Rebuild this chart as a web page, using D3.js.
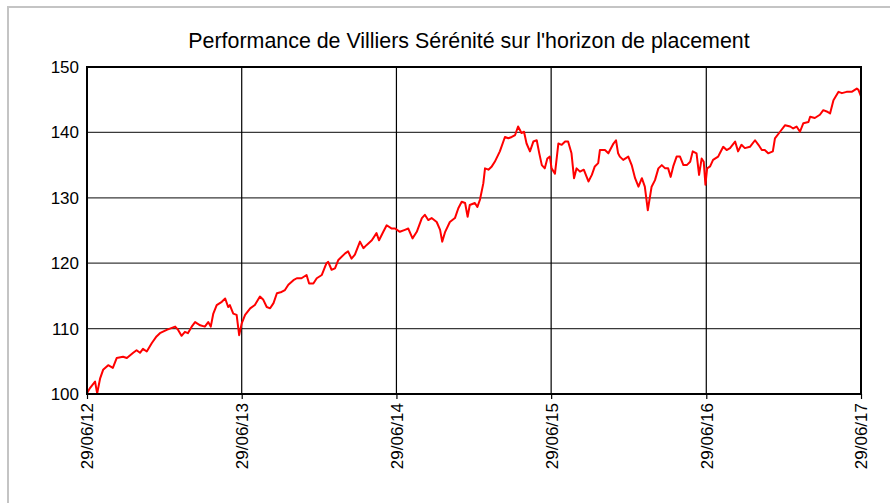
<!DOCTYPE html>
<html>
<head>
<meta charset="utf-8">
<script src="https://cdn.jsdelivr.net/npm/d3@7"></script>
<style>
  body { margin: 0; background: #fff; }
  svg { display: block; font-family: Arial, "Liberation Sans", sans-serif; }
</style>
</head>
<body>
<div id="chart"></div>
<script>
// fund value (days counted from the first date)
const startDate = "2012-06-29";
const dayOffsets = [
  0, 7, 19, 24, 31, 38, 50, 61, 70, 85, 94, 109, 117, 125, 132, 141, 153, 164, 172, 188,
  208, 215, 223, 231, 238, 247, 255, 267, 278, 286, 292, 298, 306, 318, 326, 333, 337, 345, 353, 359,
  365, 373, 385, 396, 408, 416, 424, 432, 440, 448, 459, 467, 475, 487, 495, 506, 518, 524, 534, 542,
  554, 565, 569, 577, 585, 593, 609, 616, 624, 632, 644, 652, 660, 672, 683, 689, 699, 707, 719, 727,
  738, 750, 758, 768, 778, 790, 797, 805, 813, 825, 833, 838, 845, 856, 868, 876, 884, 892, 898, 903,
  915, 921, 927, 935, 939, 947, 955, 962, 974, 986, 994, 1002, 1010, 1017, 1025, 1031, 1037, 1045, 1053, 1061,
  1067, 1073, 1080, 1086, 1092, 1096, 1104, 1112, 1120, 1128, 1135, 1143, 1149, 1155, 1163, 1172, 1183, 1191, 1198, 1206,
  1210, 1222, 1230, 1242, 1248, 1253, 1257, 1265, 1277, 1285, 1293, 1301, 1309, 1316, 1323, 1332, 1340, 1348, 1356, 1364,
  1371, 1377, 1383, 1391, 1399, 1407, 1415, 1423, 1429, 1438, 1444, 1450, 1455, 1459, 1463, 1470, 1477, 1489, 1493, 1501,
  1509, 1517, 1529, 1536, 1544, 1552, 1564, 1576, 1584, 1592, 1599, 1607, 1618, 1623, 1635, 1647, 1659, 1666, 1674, 1682,
  1690, 1702, 1706, 1717, 1729, 1737, 1745, 1753, 1761, 1773, 1781, 1792, 1804, 1816, 1820, 1826
];
const values = [
  100.1, 100.9, 101.9, 100.1, 102.4, 103.7, 104.4, 104.0, 105.5, 105.7, 105.5, 106.3, 106.7, 106.3, 106.9, 106.5, 107.8, 108.8, 109.3, 109.8,
  110.3, 109.8, 108.9, 109.5, 109.3, 110.3, 111.0, 110.5, 110.3, 111.0, 110.3, 112.3, 113.6, 114.1, 114.6, 113.3, 113.6, 112.3, 112.1, 109.0,
  110.8, 112.1, 113.1, 113.6, 114.9, 114.4, 113.3, 113.1, 113.9, 115.4, 115.6, 115.9, 116.7, 117.4, 117.7, 117.7, 118.2, 116.9, 116.9, 117.7,
  118.2, 120.0, 120.2, 119.0, 119.2, 120.5, 121.5, 121.8, 120.7, 121.3, 123.3, 122.3, 122.8, 123.5, 124.6, 123.5, 124.8, 125.8, 125.3, 125.3,
  124.8, 125.1, 125.3, 123.8, 124.8, 126.9, 127.4, 126.6, 126.9, 126.3, 125.1, 123.3, 124.8, 126.3, 126.9, 128.4, 129.4, 129.2, 127.1, 128.9,
  129.2, 128.6, 129.7, 132.2, 134.5, 134.3, 134.8, 135.5, 137.1, 139.3, 139.1, 139.3, 139.6, 140.9, 139.9, 140.1, 138.3, 137.1, 138.6, 138.8,
  136.8, 135.0, 134.5, 136.0, 136.3, 134.5, 133.7, 138.3, 138.1, 138.6, 138.6, 136.8, 133.0, 134.5, 134.0, 134.3, 132.5, 133.5, 134.8, 135.3,
  137.3, 137.3, 136.8, 138.3, 138.8, 136.8, 136.3, 135.8, 136.3, 135.0, 133.0, 131.7, 133.0, 131.7, 128.1, 131.7, 132.7, 134.5, 135.0, 134.5,
  134.5, 133.2, 134.8, 136.3, 136.3, 135.0, 135.0, 135.5, 137.1, 136.8, 133.5, 136.0, 135.5, 132.0, 134.5, 134.8, 135.8, 136.3, 136.8, 137.8,
  137.3, 137.6, 138.6, 137.1, 138.1, 137.6, 137.8, 138.8, 138.1, 137.3, 137.3, 136.8, 137.1, 139.1, 140.1, 141.1, 140.9, 140.6, 140.9, 140.1,
  141.4, 141.6, 142.4, 142.2, 142.7, 143.4, 143.2, 142.9, 144.9, 146.2, 146.0, 146.2, 146.2, 146.7, 146.5, 145.5
];
const xTickLabels = ["29/06/12", "29/06/13", "29/06/14", "29/06/15", "29/06/16", "29/06/17"];
const yTicks = [100, 110, 120, 130, 140, 150];
const title = "Performance de Villiers Sérénité sur l'horizon de placement";

const width = 890, height = 503;
const margin = {top: 67, right: 29, bottom: 109, left: 87};

const start = d3.timeParse("%Y-%m-%d")(startDate);
const parseTick = d3.timeParse("%d/%m/%y");
const fmtTick = d3.timeFormat("%d/%m/%y");
const data = dayOffsets.map((d, i) => ({date: d3.timeDay.offset(start, d), value: values[i]}));
const tickDates = xTickLabels.map(parseTick);

const x = d3.scaleTime()
  .domain([tickDates[0], tickDates[tickDates.length - 1]])
  .range([margin.left, width - margin.right]);
const y = d3.scaleLinear()
  .domain([100, 150])
  .range([height - margin.bottom, margin.top]);

const svg = d3.select("#chart").append("svg")
  .attr("width", width).attr("height", height);

// outer grey frame (only top and left edges show)
svg.append("rect")
  .attr("x", 8).attr("y", 7)
  .attr("width", width + 10).attr("height", height + 10)
  .attr("fill", "none").attr("stroke", "#c4c4c4").attr("stroke-width", 2);

svg.append("text")
  .attr("x", 469).attr("y", 48)
  .attr("text-anchor", "middle")
  .attr("font-size", 21.4)
  .attr("fill", "#000")
  .text(title);

// horizontal grid
svg.append("g")
  .selectAll("line")
  .data(yTicks.slice(1, -1))
  .join("line")
    .attr("x1", margin.left).attr("x2", width - margin.right)
    .attr("y1", d => y(d)).attr("y2", d => y(d))
    .attr("stroke", "#3a3a3a").attr("stroke-width", 1.3);

// vertical grid
svg.append("g")
  .selectAll("line")
  .data(tickDates.slice(1, -1))
  .join("line")
    .attr("x1", d => x(d)).attr("x2", d => x(d))
    .attr("y1", margin.top).attr("y2", height - margin.bottom)
    .attr("stroke", "#000").attr("stroke-width", 1.2);

// y axis labels
const yAxis = svg.append("g")
  .attr("transform", `translate(${margin.left},0)`)
  .call(d3.axisLeft(y).tickValues(yTicks).tickSize(0).tickPadding(8));
yAxis.select(".domain").remove();
yAxis.selectAll("text").attr("font-size", 17).attr("fill", "#000").attr("font-family", null);

// x axis with rotated labels
const xAxis = svg.append("g")
  .attr("transform", `translate(0,${height - margin.bottom})`)
  .call(d3.axisBottom(x).tickValues(tickDates).tickFormat(fmtTick).tickSize(5));
xAxis.select(".domain").remove();
xAxis.selectAll("line").attr("stroke", "#000").attr("stroke-width", 1.2);
xAxis.selectAll("text")
  .attr("font-size", 17).attr("fill", "#000").attr("font-family", null)
  .attr("transform", "rotate(-90)")
  .attr("text-anchor", "end")
  .attr("x", -9).attr("y", 0).attr("dy", "0.35em");

// line
const line = d3.line()
  .x(d => x(d.date))
  .y(d => y(d.value));

svg.append("path")
  .datum(data)
  .attr("fill", "none")
  .attr("stroke", "#ff0000")
  .attr("stroke-width", 2)
  .attr("stroke-linejoin", "round")
  .attr("d", line);

// plot frame
svg.append("rect")
  .attr("x", margin.left).attr("y", margin.top)
  .attr("width", width - margin.left - margin.right)
  .attr("height", height - margin.top - margin.bottom)
  .attr("fill", "none").attr("stroke", "#000").attr("stroke-width", 2);
</script>
</body>
</html>
